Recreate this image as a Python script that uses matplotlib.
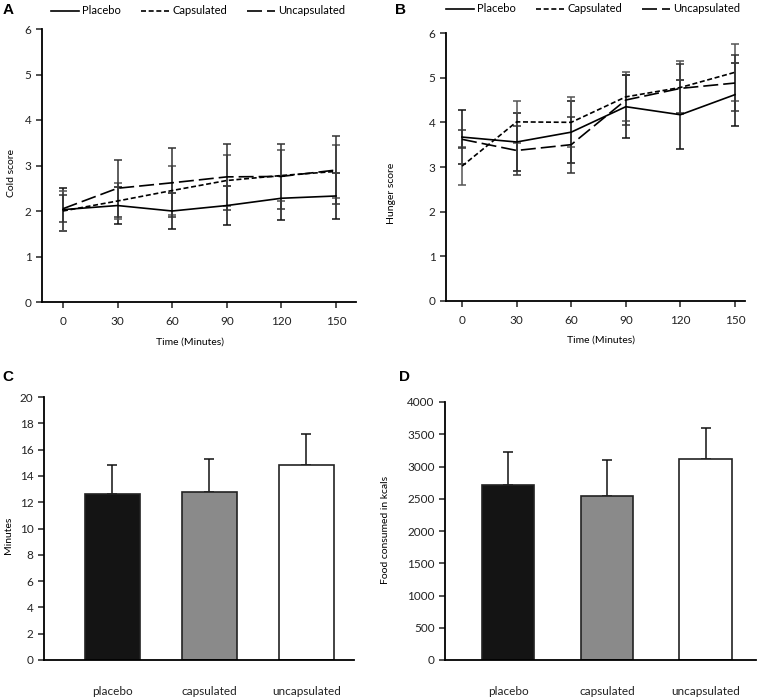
import numpy as np
import matplotlib
matplotlib.use("Agg")
import matplotlib.pyplot as plt
from matplotlib.lines import Line2D

plt.rcParams["font.family"] = ["Lato", "DejaVu Sans"]

# time course data (panels A and B)
times = [0, 30, 60, 90, 120, 150]
series_names = ["Placebo", "Capsulated", "Uncapsulated"]

cold_placebo = [2.03, 2.12, 2.00, 2.12, 2.28, 2.33]
cold_caps = [2.00, 2.22, 2.45, 2.67, 2.78, 2.87]
cold_uncaps = [2.05, 2.50, 2.62, 2.75, 2.76, 2.90]
cold_placebo_err = [0.48, 0.40, 0.40, 0.42, 0.48, 0.51]
cold_caps_err = [0.45, 0.40, 0.53, 0.55, 0.57, 0.58]
cold_uncaps_err = [0.30, 0.63, 0.76, 0.72, 0.71, 0.74]

hunger_placebo = [3.67, 3.56, 3.78, 4.35, 4.17, 4.62]
hunger_caps = [3.02, 4.01, 4.00, 4.57, 4.78, 5.12]
hunger_uncaps = [3.62, 3.37, 3.50, 4.50, 4.76, 4.88]
hunger_placebo_err = [0.60, 0.64, 0.70, 0.70, 0.77, 0.70]
hunger_caps_err = [0.42, 0.47, 0.56, 0.55, 0.60, 0.64]
hunger_uncaps_err = [0.20, 0.55, 0.63, 0.55, 0.54, 0.62]

# bar data (panels C and D)
groups = ["placebo", "capsulated", "uncapsulated"]
minutes = [12.6, 12.8, 14.8]
minutes_err = [2.2, 2.5, 2.4]
kcals = [2710, 2550, 3115]
kcals_err = [510, 550, 480]

W, H = 757, 700
fig = plt.figure(figsize=(W / 100, H / 100), dpi=100)


def box(l, r, t, b):
    return [l / W, 1 - b / H, (r - l) / W, (b - t) / H]


def style_axes(ax):
    for s in ["top", "right"]:
        ax.spines[s].set_visible(False)
    for s in ["left", "bottom"]:
        ax.spines[s].set_linewidth(1.3)
    ax.tick_params(width=1.1, length=4, labelsize=8.5, colors="#222222")


line_styles = ["-", (0, (3, 1.6)), (0, (9, 3))]
err_colors = ["#111111", "#555555", "#333333"]


def time_panel(rect, xlim, values, errs, ylabel, ylabel_x, ylabel_y):
    ax = fig.add_axes(box(*rect))
    for v, e, ls, ec in zip(values, errs, line_styles, err_colors):
        ax.errorbar(times, v, yerr=e, color="black", ls=ls, lw=1.2,
                    ecolor=ec, elinewidth=1.1, capsize=3, capthick=1.1)
    ax.set_xlim(*xlim)
    ax.set_ylim(0, 6)
    ax.set_xticks(times)
    ax.set_yticks(range(0, 7))
    style_axes(ax)
    ax.tick_params(axis="x", pad=6)
    fig.text(ylabel_x / W, 1 - ylabel_y / H, ylabel, rotation=90,
             ha="center", va="center", fontsize=7.5)
    return ax


def bar_panel(rect, xlim, values, errs, ylim, yticks, width, ylabel,
              ylabel_x, ylabel_y):
    ax = fig.add_axes(box(*rect))
    x = np.arange(len(groups))
    ax.bar(x, values, width=width, color=["#141414", "#8a8a8a", "white"],
           edgecolor="#222222", linewidth=1.2, zorder=2)
    ax.errorbar(x, values, yerr=[np.zeros(len(errs)), errs], fmt="none",
                ecolor="#111111", elinewidth=1.1, capsize=3.5, capthick=1.1,
                zorder=1)
    ax.set_xlim(*xlim)
    ax.set_ylim(*ylim)
    ax.set_yticks(yticks)
    ax.set_xticks(x)
    ax.set_xticklabels(groups)
    style_axes(ax)
    ax.tick_params(axis="x", length=0, pad=19)
    fig.text(ylabel_x / W, 1 - ylabel_y / H, ylabel, rotation=90,
             ha="center", va="center", fontsize=7.5)
    return ax


axA = time_panel((42, 356, 29, 302), (-11.5, 161),
                 [cold_placebo, cold_caps, cold_uncaps],
                 [cold_placebo_err, cold_caps_err, cold_uncaps_err],
                 "Cold score", 12, 173)
axB = time_panel((446, 745, 33, 301), (-8.8, 155.5),
                 [hunger_placebo, hunger_caps, hunger_uncaps],
                 [hunger_placebo_err, hunger_caps_err, hunger_uncaps_err],
                 "Hunger score", 392, 193)

fig.text(190 / W, 1 - 342 / H, "Time (Minutes)", ha="center", va="center",
         fontsize=7.5)
fig.text(601 / W, 1 - 340 / H, "Time (Minutes)", ha="center", va="center",
         fontsize=7.5)

axC = bar_panel((44, 354, 397, 660), (-0.706, 2.49), minutes, minutes_err,
                (0, 20), range(0, 21, 2), 0.57, "Minutes", 8, 535)
axD = bar_panel((445, 756, 402, 660), (-0.64, 2.51), kcals, kcals_err,
                (0, 4000), range(0, 4001, 500), 0.53,
                "Food consumed in kcals", 386, 530)

# legends for the time panels
handles = [Line2D([], [], color="black", ls=ls, lw=1.2) for ls in line_styles]
for cx, cy in [(198, 11), (593, 9)]:
    fig.legend(handles, series_names, loc="center",
               bbox_to_anchor=(cx / W, 1 - cy / H), ncol=3, frameon=False,
               fontsize=8, handlelength=2.5, handletextpad=0.3,
               columnspacing=1.8, borderaxespad=0, borderpad=0)

# panel letters
for lab, px, py in [("A", 8, 10), ("B", 400, 10), ("C", 8, 377),
                    ("D", 405, 377)]:
    fig.text(px / W, 1 - py / H, lab, fontsize=11, fontweight="bold",
             family="Liberation Sans", ha="center", va="center")

fig.savefig("out.png", dpi=100)
